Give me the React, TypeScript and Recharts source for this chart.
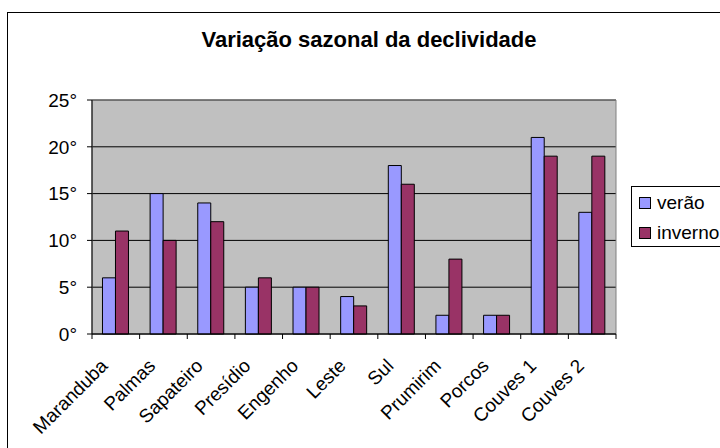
import React from 'react';
import { BarChart, Bar, XAxis, YAxis, CartesianGrid, ReferenceArea } from 'recharts';

const categories = ['Maranduba', 'Palmas', 'Sapateiro', 'Presídio', 'Engenho', 'Leste', 'Sul', 'Prumirim', 'Porcos', 'Couves 1', 'Couves 2'];
const verao = [6, 15, 14, 5, 5, 4, 18, 2, 2, 21, 13];
const inverno = [11, 10, 12, 6, 5, 3, 16, 8, 2, 19, 19];
const yTicks = [0, 5, 10, 15, 20, 25];
const seriesNames = ['verão', 'inverno'];
const seriesColors = ['#9999FF', '#993366'];

const data = categories.map((c, i) => ({ name: c, verao: verao[i], inverno: inverno[i] }));

const FONT = '"Liberation Sans", Arial, sans-serif';

const XTick = (props: any) => {
  const { x, y, payload, index, visibleTicksCount } = props;
  const off = payload && payload.offset ? payload.offset : 0;
  return (
    <g>
      <line x1={x - off} x2={x - off} y1={y} y2={y + 5} stroke="#000" />
      {index === visibleTicksCount - 1 ? (
        <line x1={x + off} x2={x + off} y1={y} y2={y + 5} stroke="#000" />
      ) : null}
      <g transform={`translate(${x - 7},${y + 33}) rotate(-45)`}>
        <text x={0} y={0} textAnchor="end" fontSize={19} fontFamily={FONT} fill="#000">
          {payload.value}
        </text>
      </g>
    </g>
  );
};

export default function App() {
  return (
    <div style={{ position: 'absolute', left: 0, top: 0, width: 720, height: 448, overflow: 'hidden', background: '#fff' }}>
      <div style={{ position: 'absolute', left: 7, top: 12, width: 760, height: 500, border: '1px solid #000', boxSizing: 'border-box' }} />
      <div style={{ position: 'absolute', left: 0, top: 29, width: 738, textAlign: 'center', fontFamily: FONT, fontWeight: 'bold', fontSize: 22, lineHeight: '22px', color: '#000' }}>
        Variação sazonal da declividade
      </div>
      <div style={{ position: 'absolute', left: 0, top: 0 }}>
        <BarChart width={720} height={448} data={data} margin={{ top: 100, right: 104, bottom: 0, left: 0 }} barCategoryGap="22%" barGap={0}>
          <CartesianGrid vertical={false} stroke="#000" fill="#C0C0C0" />
          <ReferenceArea y1={0} y2={25} fill="none" stroke="#808080" strokeWidth={1} ifOverflow="visible" />
          <XAxis dataKey="name" height={114} tickLine={false} tickSize={0} tickMargin={0} axisLine={{ stroke: '#000' }} interval={0} tick={<XTick />} />
          <YAxis width={92} domain={[0, 25]} ticks={yTicks} interval={0} tickSize={5} tickMargin={10} axisLine={{ stroke: '#000' }} tickLine={{ stroke: '#000' }} tickFormatter={(v: number) => `${v}°`} tick={{ fontSize: 19, fontFamily: FONT, fill: '#000' }} />
          <Bar dataKey="verao" name={seriesNames[0]} fill={seriesColors[0]} stroke="#000" strokeWidth={1} isAnimationActive={false} />
          <Bar dataKey="inverno" name={seriesNames[1]} fill={seriesColors[1]} stroke="#000" strokeWidth={1} isAnimationActive={false} />
        </BarChart>
      </div>
      <div style={{ position: 'absolute', left: 631, top: 186, width: 95, height: 61, border: '1px solid #000', boxSizing: 'border-box', background: '#fff', paddingTop: 1 }}>
        {seriesNames.map((n, i) => (
          <div key={n} style={{ display: 'flex', alignItems: 'center', height: 30, fontFamily: FONT, fontSize: 19, color: '#000', whiteSpace: 'nowrap' }}>
            <span style={{ display: 'inline-block', width: 10, height: 10, border: '1px solid #000', background: seriesColors[i], marginLeft: 7, marginRight: 6, flexShrink: 0 }} />
            <span>{n}</span>
          </div>
        ))}
      </div>
    </div>
  );
}
